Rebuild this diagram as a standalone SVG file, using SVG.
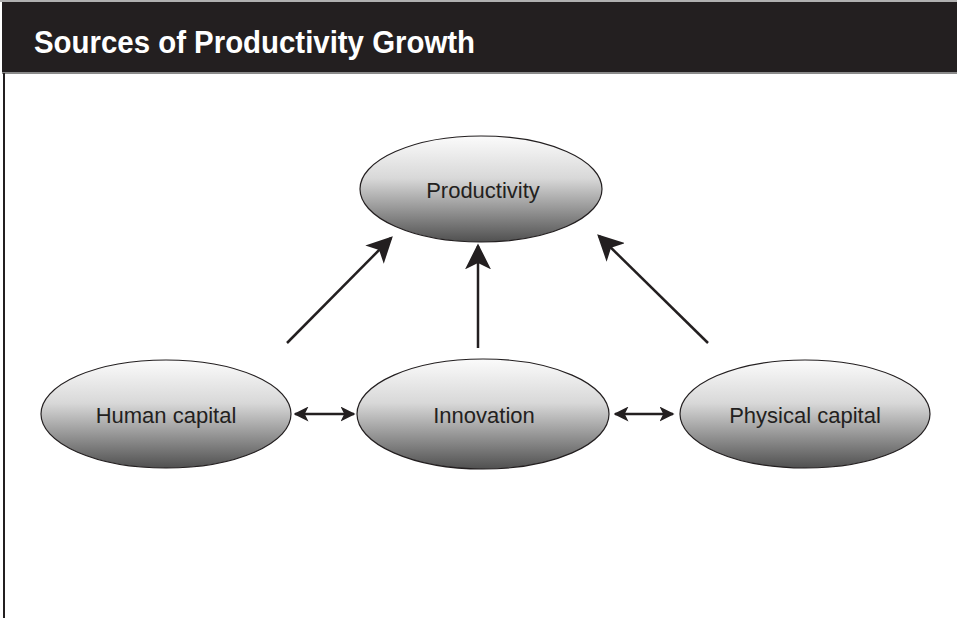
<svg xmlns="http://www.w3.org/2000/svg" width="957" height="618" viewBox="0 0 957 618">
<defs>
<linearGradient id="g" x1="0" y1="0" x2="0" y2="1">
<stop offset="0" stop-color="#fbfbfb"/>
<stop offset="0.4" stop-color="#d8d8d8"/>
<stop offset="1" stop-color="#505050"/>
</linearGradient>
<marker id="ah" viewBox="0 0 10 10" refX="9" refY="5" markerWidth="15" markerHeight="15" markerUnits="userSpaceOnUse" orient="auto-start-reverse">
<path d="M0,0 L10,5 L0,10 L2.5,5 Z" fill="#231f20"/>
</marker>
<marker id="ahb" viewBox="0 0 10 10" refX="9" refY="5" markerWidth="26" markerHeight="26" markerUnits="userSpaceOnUse" orient="auto">
<path d="M0,0 L10,5 L0,10 L2.5,5 Z" fill="#231f20"/>
</marker>
</defs>
<style>
.node ellipse{fill:url(#g);stroke:#231f20;stroke-width:1.2}
.node text{font-family:"Liberation Sans",Arial,sans-serif;font-size:22px;fill:#231f20;text-anchor:middle}
.c{stroke:#231f20;stroke-width:2.5;fill:none}
</style>
<rect x="0" y="0" width="957" height="618" fill="#ffffff"/>
<rect x="0" y="0" width="957" height="2" fill="#b0b0b0"/>
<rect x="2" y="2" width="955" height="71" fill="#231f20"/>
<rect x="2" y="72" width="955" height="2" fill="#8a8a8a"/>
<rect x="3" y="73" width="2" height="545" fill="#231f20"/>
<text x="34" y="53" font-family="'Liberation Sans',Arial,sans-serif" font-weight="bold" font-size="32" fill="#ffffff" textLength="441" lengthAdjust="spacingAndGlyphs">Sources of Productivity Growth</text>
<g id="productivity" class="node"><ellipse cx="481" cy="189" rx="121" ry="53"/><text x="483" y="198">Productivity</text></g>
<g id="human-capital" class="node"><ellipse cx="166" cy="414" rx="125" ry="54"/><text x="166" y="423">Human capital</text></g>
<g id="innovation" class="node"><ellipse cx="483" cy="414" rx="126" ry="55"/><text x="484" y="423">Innovation</text></g>
<g id="physical-capital" class="node"><ellipse cx="805" cy="414" rx="125" ry="54"/><text x="805" y="423">Physical capital</text></g>
<g id="connectors">
<line class="c" x1="287" y1="343" x2="391" y2="238" marker-end="url(#ahb)"/>
<line class="c" x1="478" y1="348" x2="478" y2="246" marker-end="url(#ahb)"/>
<line class="c" x1="708" y1="343" x2="599" y2="236" marker-end="url(#ahb)"/>
<line class="c" x1="295" y1="414" x2="354" y2="414" stroke-width="2" marker-start="url(#ah)" marker-end="url(#ah)"/>
<line class="c" x1="615" y1="414" x2="673" y2="414" stroke-width="2" marker-start="url(#ah)" marker-end="url(#ah)"/>
</g>
</svg>
